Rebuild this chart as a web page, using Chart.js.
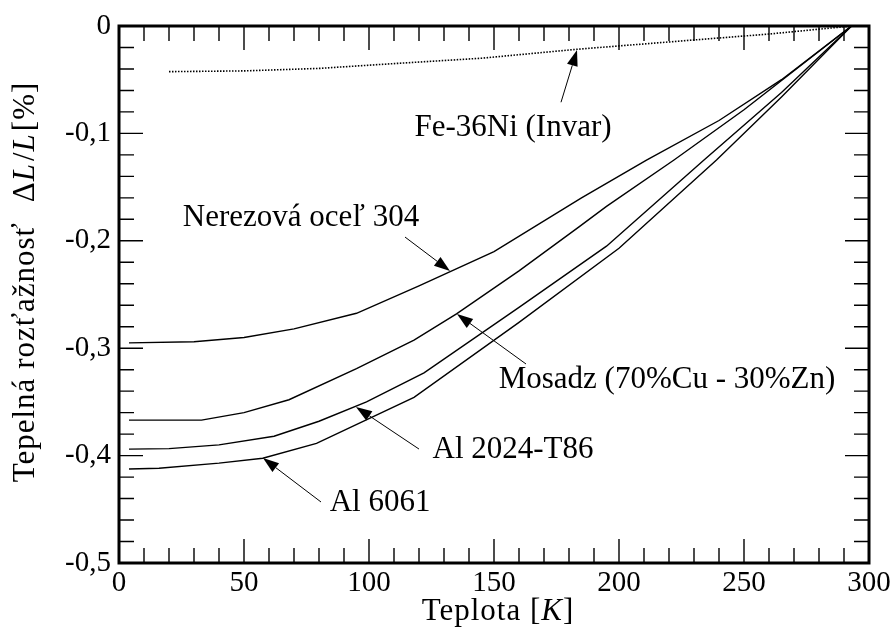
<!DOCTYPE html>
<html>
<head>
<meta charset="utf-8">
<script src="https://cdn.jsdelivr.net/npm/chart.js@4"></script>
<style>
  html, body { margin: 0; padding: 0; background: #fff; }
  #wrap { width: 896px; height: 635px; position: relative; }
</style>
</head>
<body>
<div id="wrap"><canvas id="expansionChart"></canvas></div>
<script>
// Temperature [K] and relative length change dL/L [%]
const invarT = [20, 50, 80, 110, 145, 183, 230, 260, 293];
const invarDL = [-0.0425, -0.0418, -0.0395, -0.035, -0.030, -0.0217, -0.013, -0.0075, 0];

const steelT = [4, 30, 50, 70, 95, 120, 150, 185, 211, 240, 265, 293];
const steelDL = [-0.295, -0.294, -0.290, -0.282, -0.2675, -0.242, -0.210, -0.160, -0.1248, -0.088, -0.050, 0];

const brassT = [4, 33, 50, 68, 95, 118, 135, 160, 184, 195, 222, 250, 293];
const brassDL = [-0.367, -0.367, -0.360, -0.348, -0.319, -0.2924, -0.268, -0.228, -0.187, -0.168, -0.1248, -0.078, 0];

const al2024T = [4, 20, 40, 62, 80, 99, 122, 160, 195, 234, 265, 293];
const al2024DL = [-0.394, -0.3935, -0.390, -0.382, -0.368, -0.350, -0.323, -0.262, -0.205, -0.1248, -0.062, 0];

const al6061T = [4, 16, 40, 57.5, 79, 118, 160, 200, 239, 265, 293];
const al6061DL = [-0.4125, -0.4118, -0.407, -0.4025, -0.3886, -0.3457, -0.276, -0.207, -0.1248, -0.066, 0];

const xTicks = [0, 50, 100, 150, 200, 250, 300];
const yTicks = [0, -0.1, -0.2, -0.3, -0.4, -0.5];

const SERIF = '"Liberation Serif", "DejaVu Serif", serif';

// Labels with arrows, in data coordinates (T, dL/L)
const callouts = [
    { text: 'Fe-36Ni (Invar)', at: [157.6, -0.095], tail: [176.8, -0.071], tip: [183.2, -0.0223] },
    { text: 'Nerezová oceľ 304', at: [72.8, -0.1788], tail: [114.4, -0.1965], tip: [132.4, -0.2281] },
    { text: 'Mosadz (70%Cu - 30%Zn)', at: [219.2, -0.3296], tail: [162.8, -0.3147], tip: [135.2, -0.2682] },
    { text: 'Al 2024-T86', at: [157.6, -0.3948], tail: [120, -0.3939], tip: [94.8, -0.3547] },
    { text: 'Al 6061', at: [104.4, -0.4441], tail: [80.8, -0.4432], tip: [57.6, -0.4022] }
];

function toPoints(xs, ys) {
    return xs.map((x, i) => ({ x: x, y: ys[i] }));
}

function fmtY(v) {
    if (Math.abs(v) < 1e-9) return '0';
    return v.toFixed(1).replace('.', ',');
}

// Draw text made of upright / italic pieces, centred on (x, y)
function drawRich(ctx, segs, x, y, size, spacing) {
    ctx.letterSpacing = (spacing || 0) + 'px';
    let total = 0;
    segs.forEach(s => {
        ctx.font = (s.it ? 'italic ' : '') + size + 'px ' + SERIF;
        s.w = ctx.measureText(s.t).width + (s.gap || 0);
        total += s.w;
    });
    let cx = x - total / 2;
    ctx.textAlign = 'left';
    ctx.textBaseline = 'middle';
    segs.forEach(s => {
        ctx.font = (s.it ? 'italic ' : '') + size + 'px ' + SERIF;
        ctx.fillText(s.t, cx, y);
        cx += s.w;
    });
    ctx.letterSpacing = '0px';
}

function drawArrow(ctx, x0, y0, x1, y1) {
    const ang = Math.atan2(y1 - y0, x1 - x0);
    const headLen = 16, headW = 5.5;
    const bx = x1 - headLen * Math.cos(ang);
    const by = y1 - headLen * Math.sin(ang);
    ctx.beginPath();
    ctx.moveTo(x0, y0);
    ctx.lineTo(bx, by);
    ctx.lineWidth = 1;
    ctx.stroke();
    ctx.beginPath();
    ctx.moveTo(x1, y1);
    ctx.lineTo(bx + headW * Math.sin(ang), by - headW * Math.cos(ang));
    ctx.lineTo(bx - headW * Math.sin(ang), by + headW * Math.cos(ang));
    ctx.closePath();
    ctx.fill();
}

const frameAndNotes = {
    id: 'frameAndNotes',
    afterDatasetsDraw(chart) {
        const ctx = chart.ctx;
        const area = chart.chartArea;
        const xs = chart.scales.x;
        const ys = chart.scales.y;
        ctx.save();
        ctx.strokeStyle = '#000';
        ctx.fillStyle = '#000';

        // inward ticks on all four sides
        ctx.lineWidth = 1.4;
        ctx.beginPath();
        for (let v = 0; v <= 300; v += 10) {
            const px = xs.getPixelForValue(v);
            const len = v % 50 === 0 ? 24 : 15;
            ctx.moveTo(px, area.bottom);
            ctx.lineTo(px, area.bottom - len);
            ctx.moveTo(px, area.top);
            ctx.lineTo(px, area.top + len);
        }
        for (let i = 0; i <= 25; i++) {
            const py = ys.getPixelForValue(-0.5 + i * 0.02);
            const len = i % 5 === 0 ? 24 : 15;
            ctx.moveTo(area.left, py);
            ctx.lineTo(area.left + len, py);
            ctx.moveTo(area.right, py);
            ctx.lineTo(area.right - len, py);
        }
        ctx.stroke();

        // frame
        ctx.lineWidth = 3;
        ctx.strokeRect(area.left, area.top, area.right - area.left, area.bottom - area.top);

        // callouts
        callouts.forEach(c => {
            drawArrow(ctx,
                xs.getPixelForValue(c.tail[0]), ys.getPixelForValue(c.tail[1]),
                xs.getPixelForValue(c.tip[0]), ys.getPixelForValue(c.tip[1]));
            drawRich(ctx, [{ t: c.text }],
                xs.getPixelForValue(c.at[0]), ys.getPixelForValue(c.at[1]), 31);
        });

        // axis titles
        drawRich(ctx, [{ t: 'Teplota [' }, { t: 'K', it: true }, { t: ']' }],
            498, 612, 31, 1);
        ctx.translate(26, 282);
        ctx.rotate(-Math.PI / 2);
        drawRich(ctx, [
            { t: 'Tepelná rozťažnosť', gap: 20 }, { t: 'Δ' }, { t: 'L', it: true, gap: 2 },
            { t: '/' }, { t: 'L', it: true, gap: 2 }, { t: '[%]' }
        ], 0, 0, 31, 1);
        ctx.restore();
    }
};

const lineStyle = {
    borderColor: '#000',
    borderWidth: 1.4,
    pointRadius: 0,
    tension: 0,
    fill: false
};

new Chart(document.getElementById('expansionChart'), {
    type: 'line',
    data: {
        datasets: [
            Object.assign({ label: 'Fe-36Ni (Invar)', data: toPoints(invarT, invarDL), borderDash: [1.5, 1.5] }, lineStyle, { borderWidth: 1.6 }),
            Object.assign({ label: 'Nerezová oceľ 304', data: toPoints(steelT, steelDL) }, lineStyle),
            Object.assign({ label: 'Mosadz (70%Cu - 30%Zn)', data: toPoints(brassT, brassDL) }, lineStyle),
            Object.assign({ label: 'Al 2024-T86', data: toPoints(al2024T, al2024DL) }, lineStyle),
            Object.assign({ label: 'Al 6061', data: toPoints(al6061T, al6061DL) }, lineStyle)
        ]
    },
    options: {
        responsive: true,
        maintainAspectRatio: false,
        animation: false,
        layout: { padding: { top: 26, right: 27, left: 0, bottom: 0 } },
        plugins: {
            legend: { display: false },
            tooltip: { enabled: false }
        },
        scales: {
            x: {
                type: 'linear',
                min: 0,
                max: 300,
                afterFit: scale => { scale.height = 72; },
                afterBuildTicks: scale => { scale.ticks = xTicks.map(v => ({ value: v })); },
                grid: { display: false, drawTicks: false },
                border: { display: false },
                ticks: {
                    padding: 3,
                    color: '#000',
                    font: { family: SERIF, size: 29 },
                    callback: v => String(v)
                }
            },
            y: {
                type: 'linear',
                min: -0.5,
                max: 0,
                afterFit: scale => { scale.width = 119; },
                afterBuildTicks: scale => { scale.ticks = yTicks.map(v => ({ value: v })); },
                grid: { display: false, drawTicks: false },
                border: { display: false },
                ticks: {
                    padding: 8,
                    color: '#000',
                    font: { family: SERIF, size: 29 },
                    callback: v => fmtY(v)
                }
            }
        }
    },
    plugins: [frameAndNotes]
});
</script>
</body>
</html>
